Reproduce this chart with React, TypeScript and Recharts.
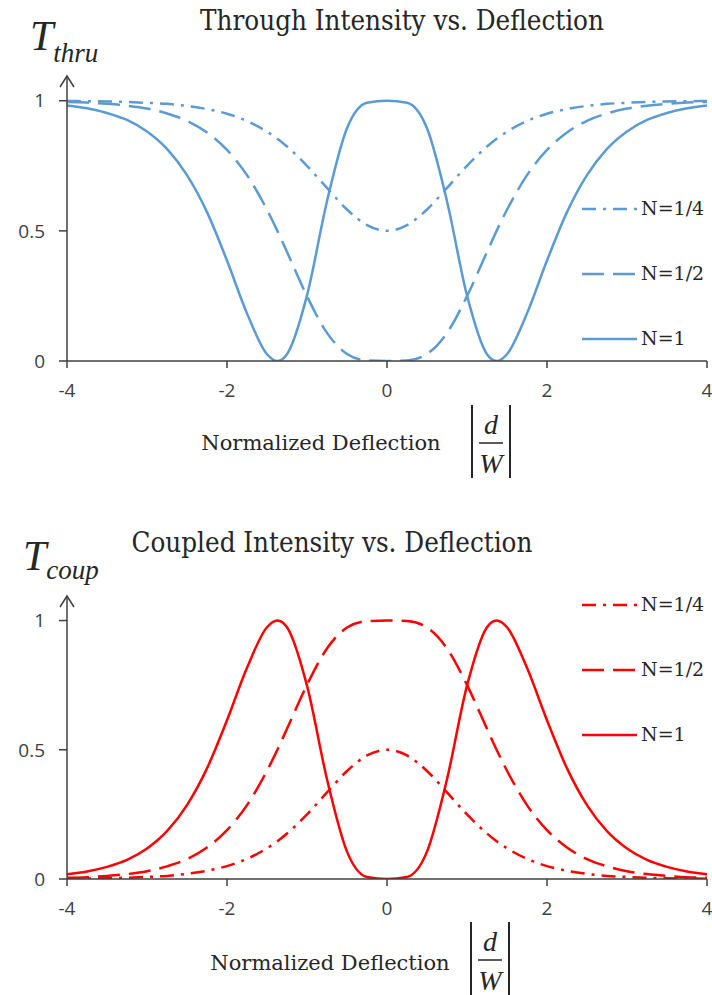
import React from 'react';
import { LineChart, Line, XAxis, YAxis, Legend } from 'recharts';

// Normalized deflection |d/W|
const deflection = [-4, -3.75, -3.5, -3.25, -3, -2.75, -2.5, -2.25, -2, -1.75, -1.5, -1.37, -1.25, -1, -0.75, -0.5, -0.25, 0, 0.25, 0.5, 0.75, 1, 1.25, 1.37, 1.5, 1.75, 2, 2.25, 2.5, 2.75, 3, 3.25, 3.5, 3.75, 4];

// Through intensity
const thruQuarter = [0.999, 0.998, 0.997, 0.995, 0.992, 0.988, 0.98, 0.968, 0.95, 0.922, 0.881, 0.854, 0.824, 0.75, 0.665, 0.582, 0.522, 0.5, 0.522, 0.582, 0.665, 0.75, 0.824, 0.854, 0.881, 0.922, 0.95, 0.968, 0.98, 0.988, 0.992, 0.995, 0.997, 0.998, 0.999];
const thruHalf = [0.995, 0.993, 0.988, 0.981, 0.97, 0.951, 0.923, 0.878, 0.811, 0.714, 0.581, 0.5, 0.419, 0.249, 0.108, 0.027, 0.002, 0, 0.002, 0.027, 0.108, 0.249, 0.419, 0.5, 0.581, 0.714, 0.811, 0.878, 0.923, 0.951, 0.97, 0.981, 0.988, 0.993, 0.995];
const thruOne = [0.982, 0.971, 0.953, 0.926, 0.882, 0.815, 0.714, 0.572, 0.386, 0.183, 0.026, 0, 0.026, 0.252, 0.614, 0.894, 0.992, 1, 0.992, 0.894, 0.614, 0.252, 0.026, 0, 0.026, 0.183, 0.386, 0.572, 0.714, 0.815, 0.882, 0.926, 0.953, 0.971, 0.982];

// Coupled intensity
const coupQuarter = [0.001, 0.002, 0.003, 0.005, 0.008, 0.012, 0.02, 0.032, 0.05, 0.078, 0.119, 0.146, 0.176, 0.25, 0.335, 0.418, 0.478, 0.5, 0.478, 0.418, 0.335, 0.25, 0.176, 0.146, 0.119, 0.078, 0.05, 0.032, 0.02, 0.012, 0.008, 0.005, 0.003, 0.002, 0.001];
const coupHalf = [0.005, 0.007, 0.012, 0.019, 0.03, 0.049, 0.077, 0.122, 0.189, 0.286, 0.419, 0.5, 0.581, 0.751, 0.892, 0.973, 0.998, 1, 0.998, 0.973, 0.892, 0.751, 0.581, 0.5, 0.419, 0.286, 0.189, 0.122, 0.077, 0.049, 0.03, 0.019, 0.012, 0.007, 0.005];
const coupOne = [0.018, 0.029, 0.047, 0.074, 0.118, 0.185, 0.286, 0.428, 0.614, 0.817, 0.974, 1, 0.974, 0.748, 0.386, 0.106, 0.008, 0, 0.008, 0.106, 0.386, 0.748, 0.974, 1, 0.974, 0.817, 0.614, 0.428, 0.286, 0.185, 0.118, 0.074, 0.047, 0.029, 0.018];

const seriesNames = ['N=1/4', 'N=1/2', 'N=1'];
const xTicks = [-4, -2, 0, 2, 4];
const yTicks = [0, 0.5, 1];

const BLUE = '#5B9BD5';
const RED = '#FF0000';
const AXIS = '#404040';
const TEXT = '#262626';
const TICK_FONT = "'Open Sans', sans-serif";
const SERIF = "'DejaVu Serif', serif";
const SERIF_C = "'DejaVu Serif Condensed', 'DejaVu Serif', serif";
const MATH = "'Liberation Serif', serif";
const DASHES = ['14 7 3 7', '22 9', undefined];
const KEYS = ['q', 'h', 'o'];

const thruData = deflection.map((d, i) => ({ d, q: thruQuarter[i], h: thruHalf[i], o: thruOne[i] }));
const coupData = deflection.map((d, i) => ({ d, q: coupQuarter[i], h: coupHalf[i], o: coupOne[i] }));

const makeLegend = (color: string) => () => (
  <div style={{ display: 'flex', flexDirection: 'column', width: 130 }}>
    {seriesNames.map((name, i) => (
      <div key={name} style={{ height: 65, display: 'flex', alignItems: 'center' }}>
        <svg width={55} height={6} style={{ display: 'block' }}>
          <line x1={0} y1={3} x2={55} y2={3} stroke={color} strokeWidth={2.5} strokeDasharray={DASHES[i]} />
        </svg>
        <span style={{ marginLeft: 4, fontFamily: SERIF, fontSize: 19, color: TEXT, lineHeight: 1 }}>{name}</span>
      </div>
    ))}
  </div>
);

function Panel({ data, color, height, marginTop, xAxisHeight, legendTop }: any) {
  return (
    <LineChart width={712} height={height} data={data} margin={{ top: marginTop, right: 5, left: 0, bottom: 0 }}>
      <XAxis
        dataKey="d"
        type="number"
        domain={[-4, 4]}
        ticks={xTicks}
        height={xAxisHeight}
        axisLine={{ stroke: AXIS, strokeWidth: 1.5 }}
        tickLine={{ stroke: AXIS, strokeWidth: 1.5 }}
        tickSize={7}
        tickMargin={16}
        tick={{ fill: AXIS, fontSize: 19, fontFamily: TICK_FONT }}
      />
      <YAxis
        type="number"
        domain={[0, 1.095]}
        ticks={yTicks}
        width={67}
        allowDataOverflow
        axisLine={{ stroke: AXIS, strokeWidth: 1.5 }}
        tickLine={{ stroke: AXIS, strokeWidth: 1.5 }}
        tickSize={8}
        tickMargin={14}
        tick={{ fill: AXIS, fontSize: 19, fontFamily: TICK_FONT }}
      />
      <Legend
        layout="horizontal"
        verticalAlign="middle"
        align="right"
        content={makeLegend(color)}
        wrapperStyle={{ position: 'absolute', left: 582, top: legendTop, width: 0, height: 0, overflow: 'visible', margin: 0, padding: 0 }}
      />
      {KEYS.map((k, i) => (
        <Line
          key={k}
          dataKey={k}
          name={seriesNames[i]}
          type="monotone"
          stroke={color}
          strokeWidth={2.5}
          strokeDasharray={DASHES[i]}
          dot={false}
          activeDot={false}
          isAnimationActive={false}
        />
      ))}
    </LineChart>
  );
}

function FracLabel({ x, y }: { x: number; y: number }) {
  return (
    <g>
      <line x1={x} y1={y} x2={x} y2={y + 73} stroke={TEXT} strokeWidth={2} />
      <line x1={x + 38} y1={y} x2={x + 38} y2={y + 73} stroke={TEXT} strokeWidth={2} />
      <text x={x + 19} y={y + 29} textAnchor="middle" fontFamily={MATH} fontStyle="italic" fontSize={28} fill={TEXT}>d</text>
      <line x1={x + 7} y1={y + 38} x2={x + 31} y2={y + 38} stroke={TEXT} strokeWidth={1.5} />
      <text x={x + 19} y={y + 68} textAnchor="middle" fontFamily={MATH} fontStyle="italic" fontSize={28} fill={TEXT}>W</text>
    </g>
  );
}

function Arrow({ x, y }: { x: number; y: number }) {
  return <polyline points={`${x - 7},${y + 11} ${x},${y} ${x + 7},${y + 11}`} fill="none" stroke={AXIS} strokeWidth={1.5} />;
}

export default function App() {
  return (
    <div style={{ position: 'absolute', left: 0, top: 0, width: 712, height: 995, background: '#fff', overflow: 'hidden' }}>
      <div style={{ position: 'absolute', left: 0, top: 0 }}>
        <Panel data={thruData} color={BLUE} height={420} marginTop={76} xAxisHeight={59} legendTop={176} />
      </div>
      <div style={{ position: 'absolute', left: 0, top: 500 }}>
        <Panel data={coupData} color={RED} height={440} marginTop={96} xAxisHeight={61} legendTop={72} />
      </div>
      <svg width={712} height={995} style={{ position: 'absolute', left: 0, top: 0, pointerEvents: 'none' }}>
        <Arrow x={67} y={76} />
        <Arrow x={67} y={596} />
        <text x={402} y={30} textAnchor="middle" fontFamily={SERIF_C} fontSize={27.5} fill={TEXT}>Through Intensity vs. Deflection</text>
        <text x={332} y={552} textAnchor="middle" fontFamily={SERIF_C} fontSize={27.5} fill={TEXT}>Coupled Intensity vs. Deflection</text>
        <text x={30} y={50} fontFamily={MATH} fontStyle="italic" fontSize={42} fill={TEXT}>
          T<tspan fontSize={27} dy={12}>thru</tspan>
        </text>
        <text x={23} y={570} fontFamily={MATH} fontStyle="italic" fontSize={42} fill={TEXT}>
          T<tspan fontSize={27} dy={9}>coup</tspan>
        </text>
        <text x={321} y={450} textAnchor="middle" fontFamily={SERIF} fontSize={21} fill={TEXT}>Normalized Deflection</text>
        <text x={330} y={970} textAnchor="middle" fontFamily={SERIF} fontSize={21} fill={TEXT}>Normalized Deflection</text>
        <FracLabel x={472} y={405} />
        <FracLabel x={471} y={922} />
      </svg>
    </div>
  );
}
